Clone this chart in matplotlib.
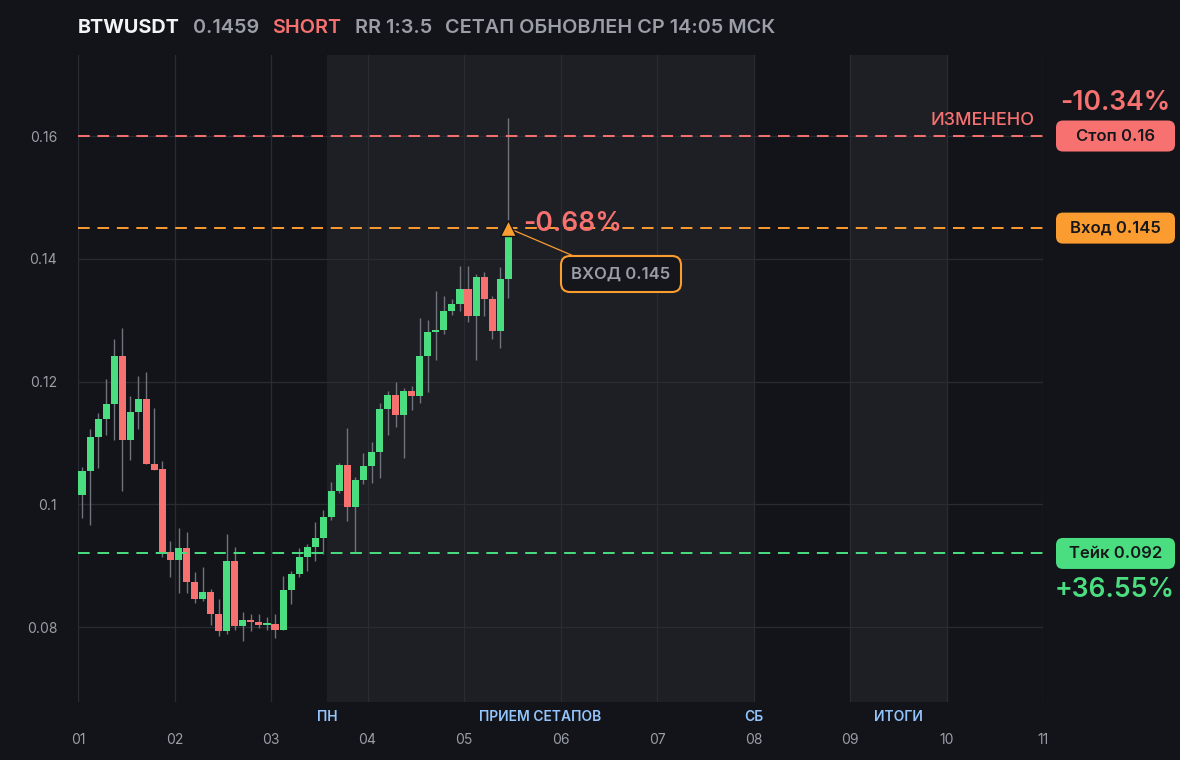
import matplotlib
matplotlib.use("Agg")
import matplotlib.pyplot as plt
import matplotlib.transforms as mtransforms
from matplotlib.patches import FancyBboxPatch

plt.rcParams["font.family"] = ["Inter", "DejaVu Sans"]

# 2h candles, BTWUSDT
opens = [0.1016, 0.1054, 0.1109, 0.1139, 0.1163, 0.1241, 0.1104, 0.1150, 0.1171, 0.1066,
         0.1057, 0.0923, 0.0910, 0.0929, 0.0873, 0.0845, 0.0857, 0.0821, 0.0793, 0.0908,
         0.0801, 0.0812, 0.0808, 0.0803, 0.0805, 0.0796, 0.0861, 0.0887, 0.0914, 0.0931,
         0.0945, 0.0979, 0.1022, 0.1064, 0.0996, 0.1040, 0.1062, 0.1085, 0.1155, 0.1178,
         0.1146, 0.1185, 0.1177, 0.1242, 0.1281, 0.1284, 0.1315, 0.1326, 0.1351, 0.1307,
         0.1370, 0.1334, 0.1282, 0.1367]
highs = [0.1061, 0.1122, 0.1148, 0.1205, 0.1269, 0.1288, 0.1176, 0.1209, 0.1215, 0.1157,
         0.1070, 0.0940, 0.0962, 0.0955, 0.0890, 0.0898, 0.0862, 0.0846, 0.0952, 0.0931,
         0.0825, 0.0822, 0.0822, 0.0816, 0.0822, 0.0883, 0.0892, 0.0929, 0.0936, 0.0971,
         0.0991, 0.1036, 0.1067, 0.1124, 0.1045, 0.1084, 0.1102, 0.1165, 0.1185, 0.1200,
         0.1190, 0.1193, 0.1303, 0.1300, 0.1347, 0.1339, 0.1335, 0.1388, 0.1388, 0.1376,
         0.1378, 0.1340, 0.1386, 0.1629]
lows = [0.0978, 0.0967, 0.1060, 0.1113, 0.1104, 0.1022, 0.1073, 0.1123, 0.1066, 0.1056,
        0.0915, 0.0881, 0.0855, 0.0856, 0.0840, 0.0842, 0.0803, 0.0786, 0.0788, 0.0795,
        0.0778, 0.0793, 0.0798, 0.0795, 0.0783, 0.0795, 0.0837, 0.0881, 0.0891, 0.0908,
        0.0919, 0.0975, 0.1018, 0.0973, 0.0920, 0.1033, 0.1035, 0.1043, 0.1113, 0.1126,
        0.1075, 0.1154, 0.1165, 0.1183, 0.1235, 0.1277, 0.1309, 0.1315, 0.1297, 0.1235,
        0.1307, 0.1270, 0.1255, 0.1336]
closes = [0.1054, 0.1109, 0.1139, 0.1163, 0.1241, 0.1104, 0.1150, 0.1171, 0.1066, 0.1056,
          0.0923, 0.0910, 0.0929, 0.0873, 0.0845, 0.0857, 0.0821, 0.0793, 0.0908, 0.0801,
          0.0812, 0.0808, 0.0803, 0.0805, 0.0796, 0.0861, 0.0887, 0.0914, 0.0931, 0.0945,
          0.0979, 0.1022, 0.1064, 0.0996, 0.1040, 0.1062, 0.1085, 0.1155, 0.1178, 0.1146,
          0.1185, 0.1177, 0.1242, 0.1281, 0.1284, 0.1315, 0.1326, 0.1351, 0.1307, 0.1370,
          0.1334, 0.1282, 0.1367, 0.1445]

stop_price = 0.16
entry_price = 0.145
take_price = 0.092
stop_pct = "-10.34%"
take_pct = "+36.55%"
entry_pct = "-0.68%"

day_ticks = [1, 2, 3, 4, 5, 6, 7, 8, 9, 10, 11]
day_labels = ["01", "02", "03", "04", "05", "06", "07", "08", "09", "10", "11"]
y_ticks = [0.08, 0.1, 0.12, 0.14, 0.16]
y_labels = ["0.08", "0.1", "0.12", "0.14", "0.16"]
zones = [(3.58, 8.0), (9.0, 10.0)]
zone_labels = [(3.58, "ПН"), (5.79, "ПРИЕМ СЕТАПОВ"), (8.0, "СБ"), (9.5, "ИТОГИ")]

BG = "#131419"
ZONE = "#1e1f24"
GRID = "#2a2c33"
GREEN = "#4ade80"
RED = "#f87171"
ORANGE = "#fb9c30"
GRAY = "#9a9ea7"
WICK = "#6f737b"

W, H = 1180, 760
fig = plt.figure(figsize=(W / 100, H / 100), dpi=100, facecolor=BG)
ax = fig.add_axes([78 / W, (H - 702) / H, 965 / W, 647 / H])
ax.set_facecolor(BG)
ax.set_xlim(1, 11)
ax.set_ylim(0.0678, 0.1732)
for s in ax.spines.values():
    s.set_visible(False)

for a, b in zones:
    ax.axvspan(a, b, color=ZONE, zorder=0, lw=0)

ax.set_xticks(day_ticks)
ax.set_xticklabels(day_labels)
ax.set_yticks(y_ticks)
ax.set_yticklabels(y_labels)
ax.tick_params(length=0, colors=GRAY, labelsize=10)
ax.tick_params(axis="x", pad=22)
ax.tick_params(axis="y", pad=15)
ax.grid(True, color=GRID, lw=0.9, zorder=0.5)
ax.set_axisbelow(True)

# candles
dx = 1 / 12
xs = [1 + (i + 0.5) * dx for i in range(len(opens))]
ax.vlines(xs, lows, highs, color=WICK, lw=1, zorder=2)
for x, o, c in zip(xs, opens, closes):
    col = GREEN if c >= o else RED
    h = max(abs(c - o), 0.00035)
    ax.bar(x, h, bottom=min(o, c), width=dx * 0.88, color=col, lw=0, zorder=3)

# setup levels
ax.axhline(stop_price, color=RED, ls=(0, (6, 4)), lw=1.4, zorder=4)
ax.axhline(entry_price, color=ORANGE, ls=(0, (6, 4)), lw=1.4, zorder=4)
ax.axhline(take_price, color=GREEN, ls=(0, (6, 4)), lw=1.4, zorder=4)

# region labels
bt = mtransforms.blended_transform_factory(ax.transData, ax.transAxes)
for x, lab in zone_labels:
    ax.text(x, -0.023, lab, transform=bt, ha="center", va="center",
            color="#93c5fd", fontsize=10, fontweight="semibold")

# pixel transform (top-left origin)
T = mtransforms.Affine2D().scale(1, -1).translate(0, H).scale(1 / W, 1 / H) + fig.transFigure

def ypx(price):
    return H - ax.transData.transform((1, price))[1]

# header
hdr = [(78, "BTWUSDT", "#f3f4f6", "bold"), (193, "0.1459", GRAY, "semibold"),
       (272, "SHORT", RED, "semibold"), (355, "RR 1:3.5", GRAY, "semibold"),
       (445, "СЕТАП ОБНОВЛЕН СР 14:05 МСК", GRAY, "semibold")]
for x, txt, col, wt in hdr:
    fig.text(x, 28, txt, transform=T, ha="left", va="center", color=col,
             fontsize=14.3, fontweight=wt)

# right price boxes
def price_box(price, label, col):
    yc = ypx(price)
    box = FancyBboxPatch((1056, yc - 15.5), 119, 31, transform=T,
                         boxstyle="round,pad=0,rounding_size=7", fc=col, ec="none")
    fig.add_artist(box)
    fig.text(1115.5, yc, label, transform=T, ha="center", va="center",
             color="#16171b", fontsize=12, fontweight="semibold")
    return yc

ys = price_box(stop_price, "Стоп 0.16", RED)
price_box(entry_price, "Вход 0.145", ORANGE)
yt = price_box(take_price, "Тейк 0.092", GREEN)
fig.text(1115, ys - 33, stop_pct, transform=T, ha="center", va="center",
         color=RED, fontsize=19, fontweight="semibold")
fig.text(1115, yt + 37, take_pct, transform=T, ha="center", va="center",
         color=GREEN, fontsize=19, fontweight="semibold")
fig.text(1035, ys - 16, "ИЗМЕНЕНО", transform=T, ha="right", va="center",
         color=RED, fontsize=13, fontweight="medium")

# entry marker and callout
x_last = xs[-1]
ax.plot(x_last, entry_price, marker="^", ms=11, color=ORANGE, mec=BG, mew=1, zorder=6)
ax.annotate(entry_pct, xy=(x_last, entry_price), xytext=(11, 3), textcoords="offset points",
            ha="left", va="center", color=RED, fontsize=19, fontweight="semibold", zorder=6)
ax.annotate("", xy=(x_last, entry_price), xytext=(576, 257), textcoords=T,
            arrowprops=dict(arrowstyle="-", color=ORANGE, lw=0.9, shrinkA=0, shrinkB=2))
cb = FancyBboxPatch((561, 256), 120, 36, transform=T,
                    boxstyle="round,pad=0,rounding_size=9", fc="#15161b", ec=ORANGE, lw=1.5)
fig.add_artist(cb)
fig.text(621, 274, "ВХОД 0.145", transform=T, ha="center", va="center",
         color=GRAY, fontsize=12, fontweight="semibold")

fig.savefig("out.png", dpi=100, facecolor=BG)
